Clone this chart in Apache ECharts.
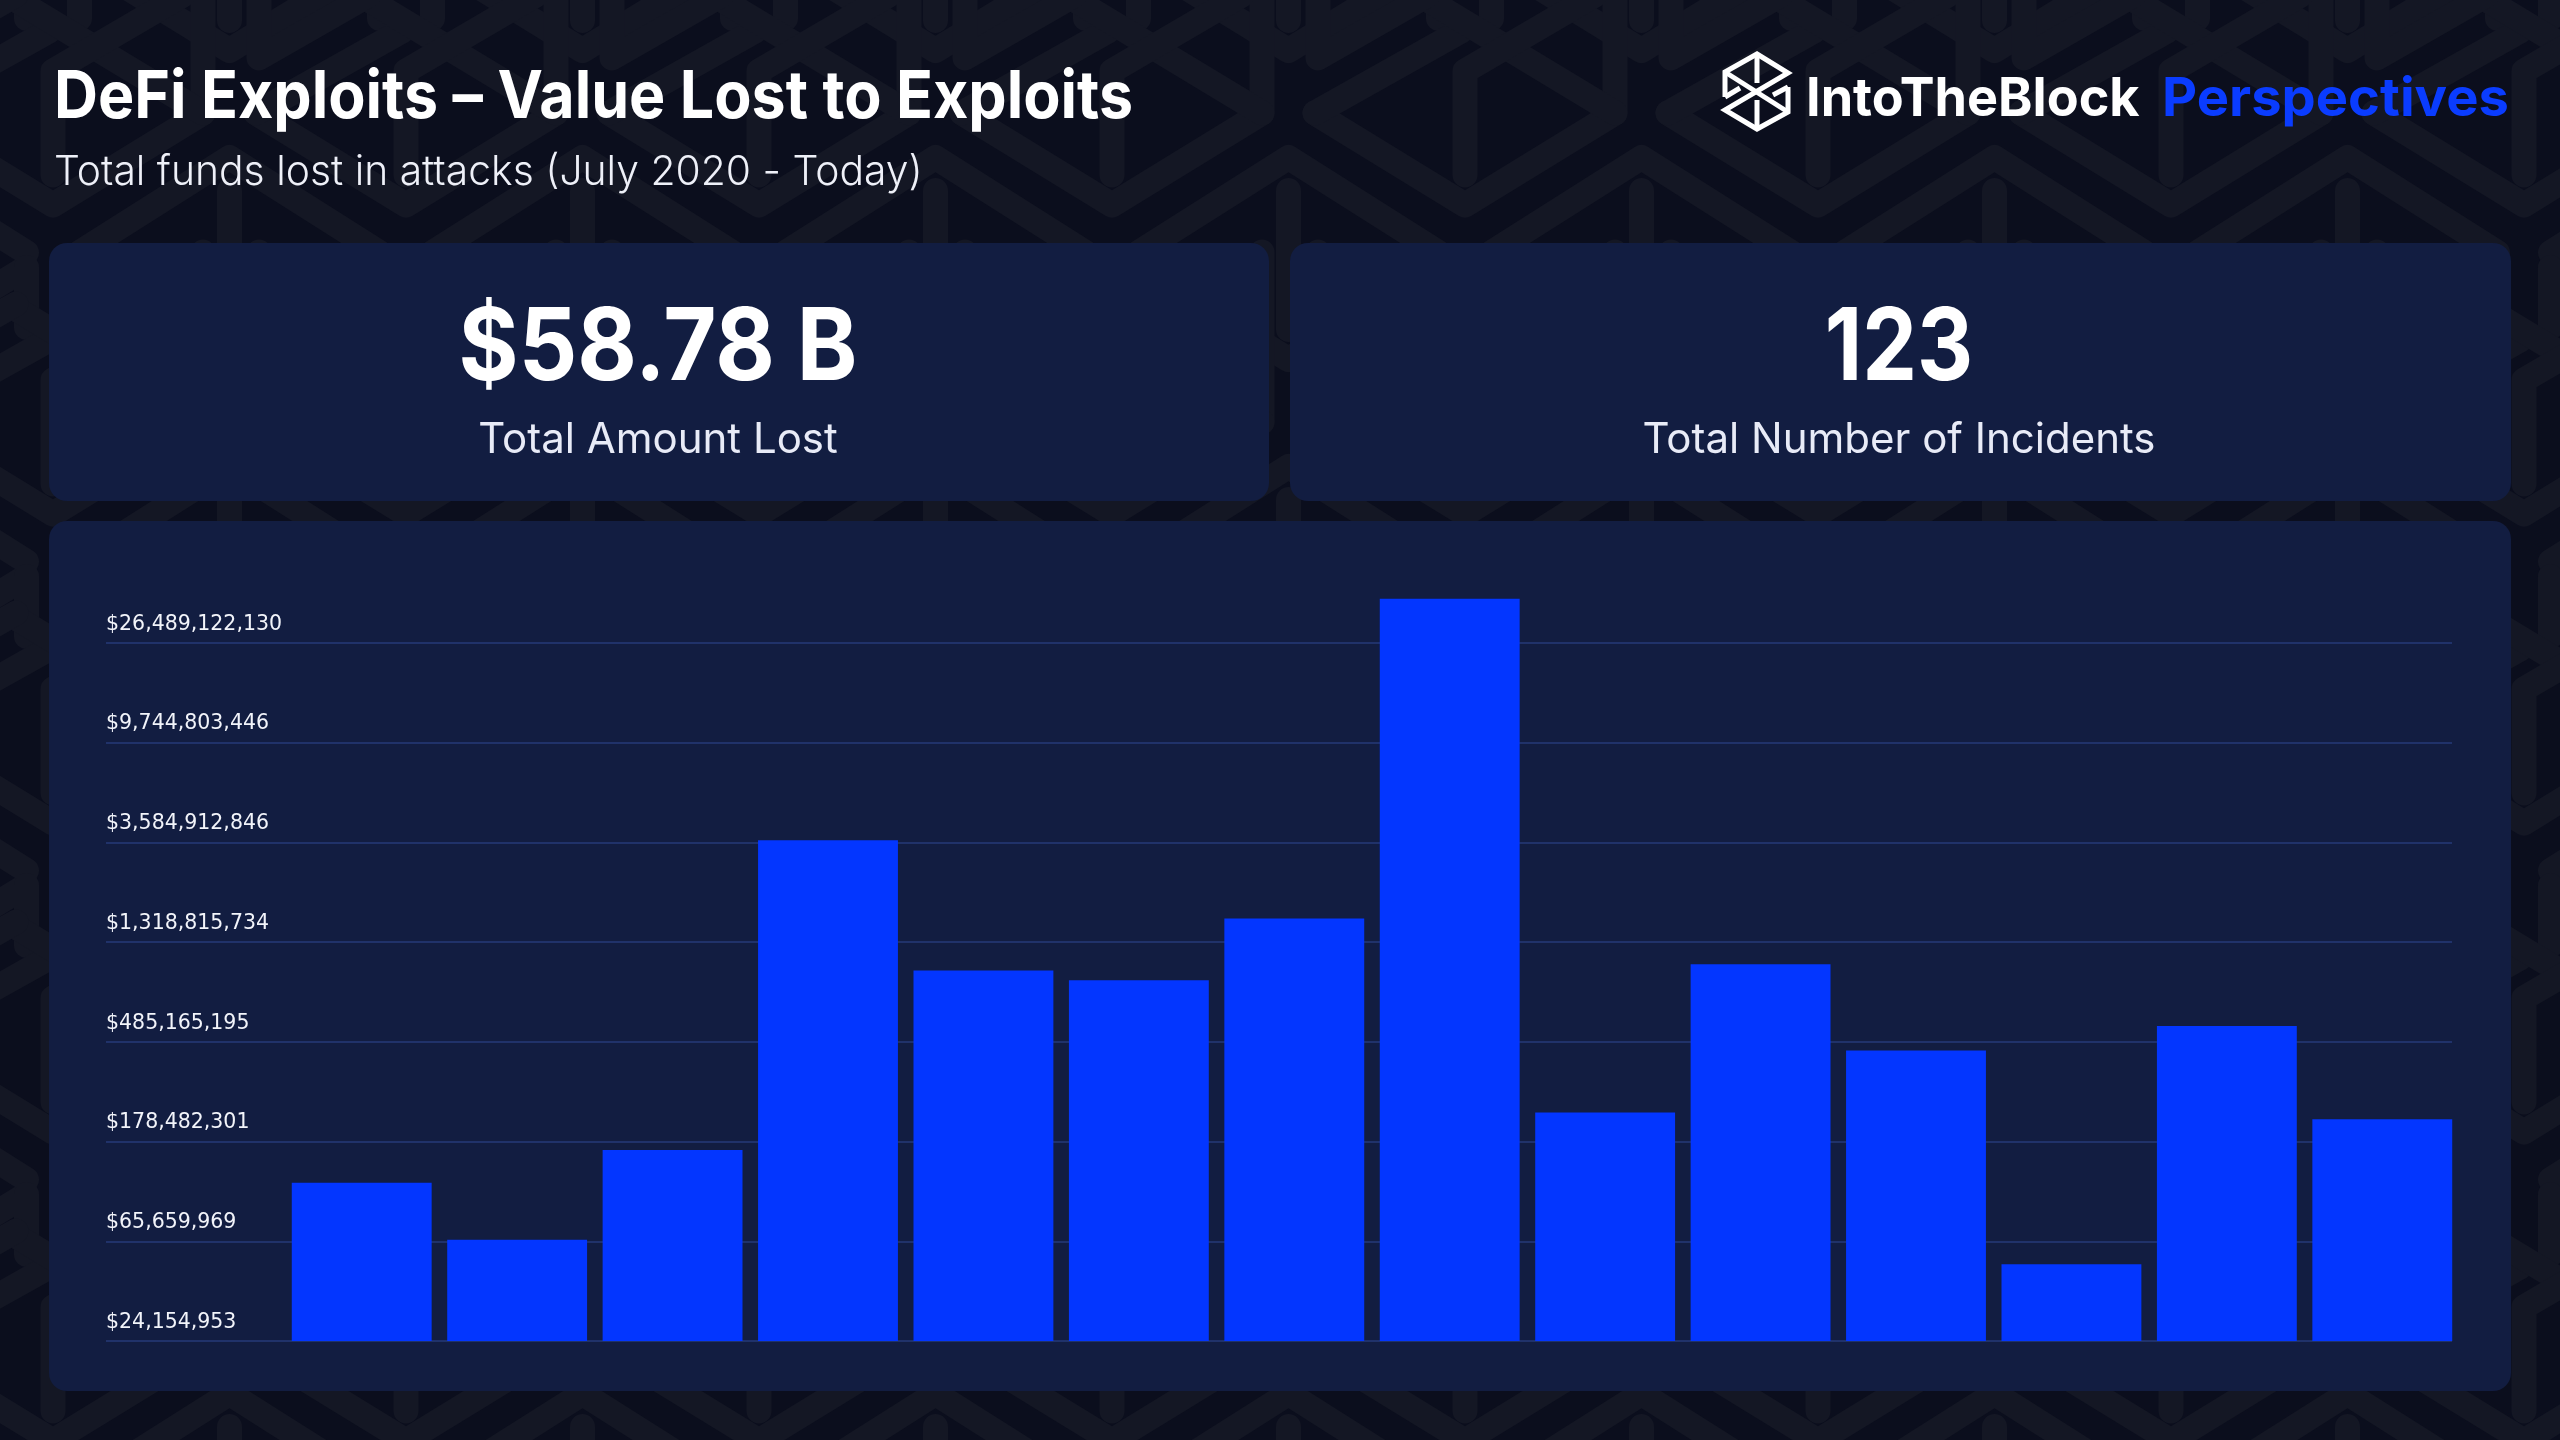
<!DOCTYPE html>
<html>
<head>
<meta charset="utf-8">
<title>DeFi Exploits</title>
<script src="https://cdn.jsdelivr.net/npm/echarts@6/dist/echarts.min.js"></script>
<style>
  html, body { margin: 0; padding: 0; background: #0b0e1d; }
  #chart { width: 2560px; height: 1440px; }
</style>
</head>
<body>
<div id="chart"></div>
<script>
// data, one bar per period (the periods are not labelled)
const categories = ['1', '2', '3', '4', '5', '6', '7', '8', '9', '10', '11', '12', '13', '14'];
const lostValues = [118000000, 66600000, 163800000, 3657000000, 990000000, 898000000, 1670000000,
  41200000000, 238500000, 1056000000, 444000000, 52100000, 568000000, 223000000];
const tickValues = [24154953, 65659969, 178482301, 485165195, 1318815734, 3584912846, 9744803446, 26489122130];

const chart = echarts.init(document.getElementById('chart'));

const FONT = 'Inter, sans-serif';
const BLUE = '#0336ff';
const CARD = '#121d41';

// squeeze is a horizontal scale, the reference font sits tighter than Inter
function text(x, y, str, size, weight, fill, align, squeeze) {
  return {
    type: 'text', z: 5, x: x, y: y, scaleX: squeeze || 1,
    style: { x: 0, y: 0, text: str, fill: fill, textAlign: align || 'left', textVerticalAlign: 'middle',
      font: weight + ' ' + size + 'px ' + FONT }
  };
}

function card(x, y, w, h) {
  return { type: 'rect', z: -1, shape: { x: x, y: y, width: w, height: h, r: 18 }, style: { fill: CARD } };
}

// faint hexagon wallpaper behind the cards
function wallpaper() {
  const evenRow = [
    [[-150, 0], [0, 92], [150, 0], [150, -170]],
    [[-150, 0], [-4, -82]],
    [[150, 0], [-37, -113]],
    [[0, 62], [0, -42], [130, -118]],
    [[-147, -170], [-147, -55], [-37, -118]]
  ];
  const oddRow = [
    [[-150, 0], [0, 92], [150, 0]],
    [[-150, -15], [0, -110], [150, -15]],
    [[0, -77], [0, 62]],
    [[-150, 0], [-150, 60]],
    [[150, 0], [150, 60]]
  ];
  const out = [];
  for (let row = -1; row < 11; row++) {
    const cy = 113 + row * 154.5;
    const shift = row % 2 === 0 ? 0 : 176.5;
    for (let col = -1; col < 9; col++) {
      const cx = 53 + shift + col * 353;
      (row % 2 === 0 ? evenRow : oddRow).forEach(function (pts) {
        out.push({
          type: 'polyline', z: -2, x: cx, y: cy, shape: { points: pts },
          style: { stroke: '#141724', lineWidth: 25, fill: null, lineJoin: 'round', lineCap: 'round' }
        });
      });
    }
  }
  return out;
}

// logo mark, points in a 120x120 box
function logo(ox, oy) {
  const lines = [
    [[25, 67], [25, 42], [57, 24], [88, 43], [25, 80], [57, 99], [88, 82], [88, 57]],
    [[25, 42], [88, 82]],
    [[57, 24], [57, 53]],
    [[57, 99], [57, 70]],
    [[25, 67], [40, 58]],
    [[88, 57], [73, 65]]
  ];
  return lines.map(function (pts) {
    return {
      type: 'polyline', z: 5, x: ox, y: oy, shape: { points: pts },
      style: { stroke: '#ffffff', lineWidth: 5, fill: null, lineJoin: 'miter' }
    };
  });
}

const option = {
  backgroundColor: '#0b0e1d',
  animation: false,
  graphic: {
    elements: [].concat(
      wallpaper(),
      [card(49, 243, 1220, 258), card(1290, 243, 1221, 258), card(49, 521, 2462, 870)],
      logo(1700, 30),
      [
        text(54, 98, 'DeFi Exploits – Value Lost to Exploits', 66, 700, '#ffffff', 'left', 0.923),
        text(54, 173, 'Total funds lost in attacks (July 2020 - Today)', 41, 300, '#eef0f8', 'left', 0.996),
        text(1806, 100, 'IntoTheBlock', 54, 700, '#ffffff', 'left', 0.966),
        text(2162, 100, 'Perspectives', 54, 700, '#0a3cff', 'left', 1.005),
        text(658, 350, '$58.78 B', 100, 700, '#ffffff', 'center', 0.917),
        text(658, 440, 'Total Amount Lost', 42, 400, '#e8ebf7', 'center'),
        text(1899, 350, '123', 100, 700, '#ffffff', 'center', 0.87),
        text(1899, 440, 'Total Number of Incidents', 42, 400, '#e8ebf7', 'center')
      ]
    )
  },
  // grid 0 carries the long gridlines and labels, grid 1 the bars that start further right
  grid: [
    { left: 106, width: 2346, top: 598.7, height: 742.3 },
    { left: 284, width: 2176, top: 598.7, height: 742.3 }
  ],
  xAxis: [
    { gridIndex: 0, type: 'category', data: categories, show: false },
    { gridIndex: 1, type: 'category', data: categories, show: false }
  ],
  yAxis: [
    {
      gridIndex: 0, type: 'log', logBase: Math.E,
      min: tickValues[0], max: Math.max.apply(null, lostValues),
      axisLine: { show: false },
      axisTick: { show: false, customValues: tickValues },
      splitLine: { show: true, lineStyle: { color: '#263a78', width: 1.5 } },
      axisLabel: {
        inside: true, margin: 0, customValues: tickValues,
        verticalAlign: 'bottom', align: 'left', padding: [0, 0, 8, 0],
        color: '#f2f4fa', fontFamily: 'DejaVu Sans', fontSize: 20.5,
        formatter: function (v) { return '$' + Math.round(v).toLocaleString('en-US'); }
      }
    },
    {
      gridIndex: 1, type: 'log', logBase: Math.E, show: false,
      min: tickValues[0], max: Math.max.apply(null, lostValues),
      splitLine: { show: false }
    }
  ],
  series: [{
    type: 'bar', xAxisIndex: 1, yAxisIndex: 1, data: lostValues,
    barCategoryGap: '10%', itemStyle: { color: BLUE }
  }]
};

chart.setOption(option);
</script>
</body>
</html>
